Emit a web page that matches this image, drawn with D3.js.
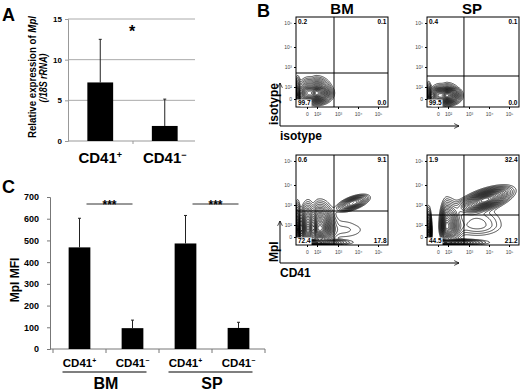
<!DOCTYPE html>
<html>
<head>
<meta charset="utf-8">
<script src="https://cdn.jsdelivr.net/npm/d3@7"></script>
<style>
  body { margin: 0; background: #fff; }
  svg { font-family: "Liberation Sans", Arial, sans-serif; font-weight: bold; }
</style>
</head>
<body>
<div id="fig"></div>
<script>
// ---- panel A: relative expression of Mpl
const relCategories = ["CD41+", "CD41-"];
const relMeans = [7.2, 1.85];
const relUpper = [12.5, 5.15];
const relTicks = [0, 5, 10, 15];

// ---- panel C: Mpl MFI
const mfiCategories = ["CD41+", "CD41-", "CD41+", "CD41-"];
const mfiGroups = ["BM", "SP"];
const mfiMeans = [468, 96, 486, 97];
const mfiUpper = [602, 133, 615, 123];
const mfiTicks = [0, 100, 200, 300, 400, 500, 600, 700];

// ---- panel B: flow plots
const flowTickVals = [0, 1, 2, 3, 4];
const flowTickLabels = ["0", "10\u00b2", "10\u00b3", "10\u2074", "10\u2075"];
const flowColumns = ["BM", "SP"];
// quadrant percentages: [upper-left, upper-right, lower-left, lower-right]
const bmIsoQuad = ["0.2", "0.1", "99.7", "0.0"];
const spIsoQuad = ["0.4", "0.1", "99.5", "0.0"];
const bmMplQuad = ["0.6", "9.1", "72.4", "17.8"];
const spMplQuad = ["1.9", "32.4", "44.5", "21.2"];
// gates [x, y] in display units (0 = "0", 1 = 10^2, 2 = 10^3 ...)
const bmIsoGate = [1.81, 1.7];
const spIsoGate = [1.76, 1.55];
const bmMplGate = [1.81, 1.7];
const spMplGate = [1.76, 1.5];
// populations [cx, cy, sx, sy, weight, rho] in display units
const bmIsoPops = [[1.0, 0.5, 0.3, 0.38, 1, 0], [0.15, 0.5, 0.45, 0.38, 0.7, 0], [-0.85, 0.35, 0.12, 0.45, 0.8, 0]];
const spIsoPops = [[0.95, 0.3, 0.28, 0.33, 1, 0], [0.15, 0.3, 0.42, 0.33, 0.7, 0], [-0.85, 0.2, 0.12, 0.4, 0.8, 0]];
const bmMplPops = [[1.15, 0.75, 0.28, 0.55, 1, 0], [0.1, 0.75, 0.32, 0.55, 0.85, 0], [-0.85, 0.6, 0.12, 0.6, 0.9, 0],
                   [0.6, -0.45, 0.8, 0.12, 0.6, 0], [2.75, 2.1, 0.35, 0.18, 0.4, 0.6], [2.2, 0.6, 0.8, 0.5, 0.035, 0]];
const spMplPops = [[0.9, 0.9, 0.3, 0.55, 0.8, 0], [-0.85, 0.5, 0.12, 0.55, 0.7, 0], [0.7, -0.45, 0.9, 0.12, 0.5, 0],
                   [2.8, 2.25, 0.55, 0.27, 1, 0.6], [2.4, 1.0, 0.7, 0.5, 0.08, 0]];

const W = 520, H = 392;
const svg = d3.select("#fig").append("svg").attr("width", W).attr("height", H);

svg.append("defs").append("marker")
    .attr("id", "arrow").attr("viewBox", "0 0 10 10")
    .attr("refX", 9).attr("refY", 5)
    .attr("markerWidth", 6).attr("markerHeight", 6)
    .attr("orient", "auto")
  .append("path").attr("d", "M1,1 L9,5 L1,9").attr("fill", "none")
    .attr("stroke", "#000").attr("stroke-width", 1.2);

function panelLabel(txt, x, y) {
    svg.append("text").attr("x", x).attr("y", y).attr("font-size", 18).text(txt);
}
panelLabel("A", 2, 21);
panelLabel("B", 257, 17);
panelLabel("C", 2, 193);

function cdLabel(sel, cat, size) {
    sel.append("tspan").text("CD41");
    sel.append("tspan").attr("font-size", size * 0.6).attr("dy", -size * 0.35)
        .text(cat.endsWith("+") ? "+" : "\u2212");
}

// ================= panel A =================
{
    let g = svg.append("g");
    let x = d3.scaleBand().domain(relCategories).range([68, 197]);
    let y = d3.scaleLinear().domain([0, 15]).range([141, 19]);

    g.selectAll(".grid").data(relTicks.filter(d => d > 0)).join("line")
        .attr("x1", 68).attr("x2", 195)
        .attr("y1", d => y(d)).attr("y2", d => y(d))
        .attr("stroke", "#aaa").attr("stroke-width", 1);

    let yAxis = g.append("g").attr("transform", "translate(68,0)")
        .call(d3.axisLeft(y).tickValues(relTicks).tickSize(3).tickPadding(3));
    yAxis.select(".domain").attr("stroke", "#999");
    yAxis.selectAll(".tick line").attr("stroke", "#999");
    yAxis.selectAll("text").attr("font-size", 8).attr("font-family", null).attr("font-weight", "bold");

    g.append("line").attr("x1", 68).attr("x2", 195).attr("y1", 141).attr("y2", 141).attr("stroke", "#999");
    g.append("line").attr("x1", 133).attr("x2", 133).attr("y1", 141).attr("y2", 144).attr("stroke", "#999");

    let bw = x.bandwidth() * 0.4;
    g.selectAll(".err").data(relCategories).join("line")
        .attr("x1", d => x(d) + x.bandwidth() / 2).attr("x2", d => x(d) + x.bandwidth() / 2)
        .attr("y1", (d, i) => y(relMeans[i])).attr("y2", (d, i) => y(relUpper[i]))
        .attr("stroke", "#222").attr("stroke-width", 1);
    g.selectAll(".cap").data(relCategories).join("line")
        .attr("x1", d => x(d) + x.bandwidth() / 2 - 1.5).attr("x2", d => x(d) + x.bandwidth() / 2 + 1.5)
        .attr("y1", (d, i) => y(relUpper[i])).attr("y2", (d, i) => y(relUpper[i]))
        .attr("stroke", "#222").attr("stroke-width", 1);
    g.selectAll(".bar").data(relCategories).join("rect")
        .attr("x", d => x(d) + (x.bandwidth() - bw) / 2).attr("width", bw)
        .attr("y", (d, i) => y(relMeans[i])).attr("height", (d, i) => y(0) - y(relMeans[i]))
        .attr("fill", "#000");

    relCategories.forEach(c => {
        let t = g.append("text").attr("x", x(c) + x.bandwidth() / 2).attr("y", 163)
            .attr("text-anchor", "middle").attr("font-size", 15);
        cdLabel(t, c, 15);
    });

    g.append("text").attr("x", 132).attr("y", 37).attr("text-anchor", "middle")
        .attr("font-size", 16).text("*");

    let lab = g.append("text").attr("transform", "translate(36,77) rotate(-90)")
        .attr("text-anchor", "middle").attr("font-size", 11.5)
        .attr("textLength", 122).attr("lengthAdjust", "spacingAndGlyphs");
    lab.append("tspan").text("Relative expression of ");
    lab.append("tspan").attr("font-style", "italic").text("Mpl");
    g.append("text").attr("transform", "translate(47,78) rotate(-90)")
        .attr("text-anchor", "middle").attr("font-size", 11.5).attr("font-style", "italic")
        .attr("textLength", 49).attr("lengthAdjust", "spacingAndGlyphs")
        .text("(/18S rRNA)");
}

// ================= panel C =================
{
    let g = svg.append("g");
    let keys = mfiCategories.map((c, i) => i);
    let x = d3.scaleBand().domain(keys).range([53, 265]);
    let y = d3.scaleLinear().domain([0, 700]).range([349, 197]);

    let yAxis = g.append("g").attr("transform", "translate(50,0)")
        .call(d3.axisLeft(y).tickValues(mfiTicks).tickSize(3).tickPadding(8));
    yAxis.select(".domain").attr("stroke", "#777");
    yAxis.selectAll(".tick line").attr("stroke", "#777");
    yAxis.selectAll("text").attr("font-size", 9).attr("font-family", null).attr("font-weight", "bold");

    g.append("line").attr("x1", 50).attr("x2", 265).attr("y1", 349).attr("y2", 349).attr("stroke", "#777");
    g.selectAll(".xt").data([53, ...keys.map(k => x(k) + x.step())]).join("line")
        .attr("x1", d => d).attr("x2", d => d).attr("y1", 349).attr("y2", 353).attr("stroke", "#777");

    let bw = x.bandwidth() * 0.41;
    let cx = k => x(k) + x.bandwidth() / 2;
    g.selectAll(".err").data(keys).join("line")
        .attr("x1", cx).attr("x2", cx)
        .attr("y1", k => y(mfiMeans[k])).attr("y2", k => y(mfiUpper[k]))
        .attr("stroke", "#222");
    g.selectAll(".cap").data(keys).join("line")
        .attr("x1", k => cx(k) - 1.5).attr("x2", k => cx(k) + 1.5)
        .attr("y1", k => y(mfiUpper[k])).attr("y2", k => y(mfiUpper[k]))
        .attr("stroke", "#222");
    g.selectAll(".bar").data(keys).join("rect")
        .attr("x", k => cx(k) - bw / 2).attr("width", bw)
        .attr("y", k => y(mfiMeans[k])).attr("height", k => y(0) - y(mfiMeans[k]))
        .attr("fill", "#000");

    keys.forEach(k => {
        let t = g.append("text").attr("x", cx(k)).attr("y", 367)
            .attr("text-anchor", "middle").attr("font-size", 11.5);
        cdLabel(t, mfiCategories[k], 11.5);
    });

    mfiGroups.forEach((grp, gi) => {
        let a = cx(gi * 2), b = cx(gi * 2 + 1);
        g.append("line").attr("x1", a - 17).attr("x2", b + 14).attr("y1", 372).attr("y2", 372)
            .attr("stroke", "#000").attr("stroke-width", 1.2);
        g.append("text").attr("x", (a + b) / 2).attr("y", 389).attr("text-anchor", "middle")
            .attr("font-size", 16).text(grp);
        // significance bar
        g.append("line").attr("x1", a + 7).attr("x2", b).attr("y1", 204).attr("y2", 204)
            .attr("stroke", "#333").attr("stroke-width", 1);
        g.append("text").attr("x", (a + 7 + b) / 2).attr("y", 209).attr("text-anchor", "middle")
            .attr("font-size", 12).text("***");
    });

    g.append("text").attr("transform", "translate(19,280) rotate(-90)")
        .attr("text-anchor", "middle").attr("font-size", 12).text("Mpl MFI");
}

// ================= panel B =================
const thresholds = [0.018, 0.03, 0.045, 0.065, 0.09, 0.12, 0.15, 0.19, 0.23, 0.28, 0.33, 0.39, 0.45,
                    0.52, 0.59, 0.66, 0.73, 0.8, 0.87, 0.94];

function density(pops, u, v) {
    let s = 0;
    pops.forEach(([mx, my, sx, sy, w, r]) => {
        let dx = (u - mx) / sx, dy = (v - my) / sy;
        let q = (dx * dx - 2 * r * dx * dy + dy * dy) / (1 - r * r);
        s += w * Math.exp(-0.5 * q);
    });
    return s;
}

function flowPlot(x0, y0, quad, gate, pops) {
    let w = 92, h = 90;
    let g = svg.append("g");
    let x = d3.scaleLinear().domain([-1, 0, 1, 2, 3, 4, 4.5]).range([0, 11, 21, 42, 62, 82, 92].map(d => x0 + d));
    let y = d3.scaleLinear().domain([-0.67, 0, 1, 2, 3, 4, 4.25]).range([0, 8, 20, 40, 60, 84, 90].map(d => y0 + h - d));

    // density grid
    let vals = new Array(w * h);
    for (let j = 0; j < h; j++) {
        for (let i = 0; i < w; i++) {
            vals[j * w + i] = density(pops, x.invert(x0 + i + 0.5), y.invert(y0 + j + 0.5));
        }
    }
    let mx = d3.max(vals);
    let cs = d3.contours().size([w, h]).thresholds(thresholds.map(t => t * mx))(vals);
    let clipId = "clip" + x0 + "_" + y0;
    g.append("clipPath").attr("id", clipId).append("rect")
        .attr("x", x0).attr("y", y0).attr("width", w).attr("height", h);
    g.append("g").attr("clip-path", `url(#${clipId})`)
        .selectAll("path").data(cs).join("path")
        .attr("d", d3.geoPath(d3.geoIdentity().translate([x0, y0])))
        .attr("fill", "none").attr("stroke", "#000").attr("stroke-width", 0.7);

    // gates
    g.append("line").attr("x1", x(gate[0])).attr("x2", x(gate[0])).attr("y1", y0).attr("y2", y0 + h)
        .attr("stroke", "#000").attr("stroke-width", 1);
    g.append("line").attr("x1", x0).attr("x2", x0 + w).attr("y1", y(gate[1])).attr("y2", y(gate[1]))
        .attr("stroke", "#000").attr("stroke-width", 1);
    g.append("rect").attr("x", x0).attr("y", y0).attr("width", w).attr("height", h)
        .attr("fill", "none").attr("stroke", "#000").attr("stroke-width", 1);

    // axes ticks
    let ax = g.append("g").attr("transform", `translate(0,${y0 + h})`)
        .call(d3.axisBottom(x).tickValues(flowTickVals).tickFormat((d, i) => flowTickLabels[i]).tickSize(2).tickPadding(3));
    let ay = g.append("g").attr("transform", `translate(${x0},0)`)
        .call(d3.axisLeft(y).tickValues(flowTickVals).tickFormat((d, i) => flowTickLabels[i]).tickSize(2).tickPadding(2));
    [ax, ay].forEach(a => {
        a.select(".domain").remove();
        a.selectAll("text").attr("font-size", 5).attr("font-family", null)
            .attr("font-weight", "normal").attr("fill", "#444");
    });

    // quadrant numbers
    let fs = 6.5;
    g.append("text").attr("x", x0 + 2).attr("y", y0 + 7).attr("font-size", fs).text(quad[0]);
    g.append("text").attr("x", x0 + w - 1.5).attr("y", y0 + 7).attr("font-size", fs)
        .attr("text-anchor", "end").text(quad[1]);
    let bl = g.append("text").attr("x", x0 + 2).attr("y", y0 + h - 2).attr("font-size", fs).text(quad[2]);
    let bb = bl.node().getBBox();
    g.insert("rect", () => bl.node()).attr("x", x0 + 0.5).attr("y", bb.y + 0.5)
        .attr("width", bb.width + 2).attr("height", y0 + h - bb.y - 1).attr("fill", "#fff");
    g.append("text").attr("x", x0 + w - 1.5).attr("y", y0 + h - 2).attr("font-size", fs)
        .attr("text-anchor", "end").text(quad[3]);
}

flowPlot(296, 17, bmIsoQuad, bmIsoGate, bmIsoPops);
flowPlot(427, 17, spIsoQuad, spIsoGate, spIsoPops);
flowPlot(296, 155, bmMplQuad, bmMplGate, bmMplPops);
flowPlot(427, 155, spMplQuad, spMplGate, spMplPops);

flowColumns.forEach((c, i) => {
    svg.append("text").attr("x", [342, 472][i]).attr("y", 14).attr("text-anchor", "middle")
        .attr("font-size", 15).text(c);
});

function flowArrows(yb, ytop, xLab, yLab) {
    svg.append("line").attr("x1", 280).attr("y1", yb).attr("x2", 280).attr("y2", ytop)
        .attr("stroke", "#000").attr("stroke-width", 1).attr("marker-end", "url(#arrow)");
    svg.append("line").attr("x1", 280).attr("y1", yb).attr("x2", 459).attr("y2", yb)
        .attr("stroke", "#000").attr("stroke-width", 1).attr("marker-end", "url(#arrow)");
    svg.append("text").attr("x", 280).attr("y", yb + 14).attr("font-size", 12).text(xLab);
    svg.append("text").attr("transform", `translate(278,${yb - 1}) rotate(-90)`)
        .attr("font-size", 12).text(yLab);
}
flowArrows(126, 83, "isotype", "isotype");
flowArrows(263, 221, "CD41", "Mpl");
</script>
</body>
</html>
